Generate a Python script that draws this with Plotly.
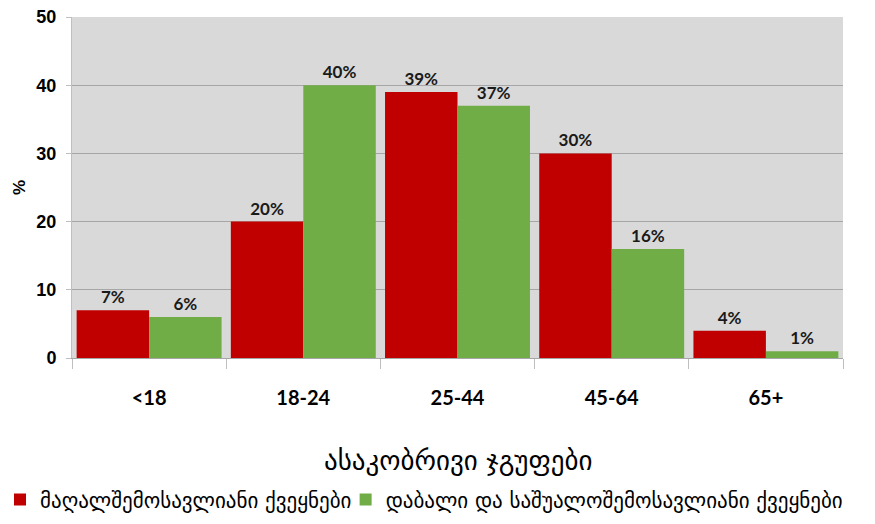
import plotly.graph_objects as go

# Age groups and shares (%) for the two country income groups
age_groups = ["<18", "18-24", "25-44", "45-64", "65+"]
high_income = [7, 20, 39, 30, 4]
low_mid_income = [6, 40, 37, 16, 1]
series_names = ["მაღალშემოსავლიანი ქვეყნები", "დაბალი და საშუალოშემოსავლიანი ქვეყნები"]
x_title = "ასაკობრივი ჯგუფები"
y_ticks = [0, 10, 20, 30, 40, 50]

label_font = dict(family="Lato, Open Sans, sans-serif", size=17, color="#1a1a1a", weight="bold")
geo_font = "DejaVu Sans, sans-serif"
legend_font = dict(family=geo_font, size=21, color="#000000")

fig = go.Figure()
fig.add_trace(go.Bar(
    x=age_groups, y=high_income, name=series_names[0], legend="legend",
    marker=dict(color="#C00000", line=dict(width=0)),
    text=[f"{v}%" for v in high_income], textposition="outside",
    textfont=label_font, cliponaxis=False,
))
fig.add_trace(go.Bar(
    x=age_groups, y=low_mid_income, name=series_names[1], legend="legend2",
    marker=dict(color="#70AD47", line=dict(width=0)),
    text=[f"{v}%" for v in low_mid_income], textposition="outside",
    textfont=label_font, cliponaxis=False,
))

# x-axis title drawn below the tick labels
fig.add_annotation(
    text=x_title, xref="paper", yref="paper", x=0.5, y=-0.30,
    xanchor="center", yanchor="middle", showarrow=False,
    font=dict(family=geo_font, size=27, color="#000000"),
)

fig.update_layout(
    width=875, height=524,
    margin=dict(l=72, r=32, t=17, b=166, autoexpand=False),
    paper_bgcolor="white",
    plot_bgcolor="#D9D9D9",
    barmode="group", bargap=0.06, bargroupgap=0,
    showlegend=True,
    legend=dict(
        orientation="h", xref="container", x=0.0, xanchor="left",
        yref="container", y=0.046, yanchor="middle",
        font=legend_font, itemwidth=30, bgcolor="rgba(0,0,0,0)",
    ),
    legend2=dict(
        orientation="h", xref="container", x=0.395, xanchor="left",
        yref="container", y=0.046, yanchor="middle",
        font=legend_font, itemwidth=30, bgcolor="rgba(0,0,0,0)",
    ),
    xaxis=dict(
        tickfont=dict(family="Lato, Open Sans, sans-serif", size=20, color="#000000", weight="bold"),
        showline=True, linecolor="#A6A6A6", linewidth=1,
        ticks="outside", tickson="boundaries", ticklen=10, tickcolor="#BFBFBF",
        ticklabelstandoff=22,
        showgrid=False,
    ),
    yaxis=dict(
        range=[0, 50], tickvals=y_ticks,
        title=dict(text="%", font=dict(family="Liberation Sans, Arial, sans-serif", size=17, color="#000000", weight="bold"),
                   standoff=6),
        tickfont=dict(family="Liberation Sans, Arial, sans-serif", size=18, color="#000000", weight="bold"),
        showgrid=True, gridcolor="#A6A6A6", gridwidth=1,
        showline=True, linecolor="#BFBFBF", linewidth=1,
        ticks="outside", ticklen=5, tickcolor="#BFBFBF",
        ticklabelstandoff=6,
        zeroline=False,
    ),
)

fig.write_html("out.html")
